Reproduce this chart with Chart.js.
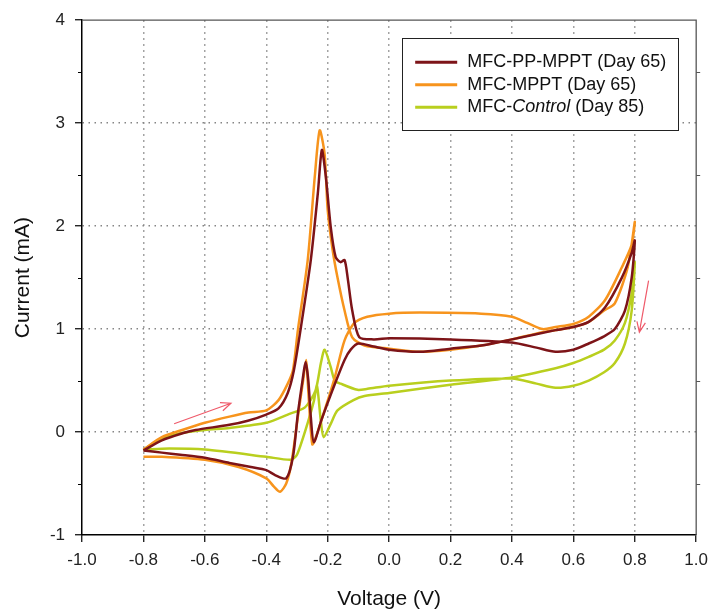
<!DOCTYPE html>
<html>
<head>
<meta charset="utf-8">
<script src="https://cdn.jsdelivr.net/npm/chart.js@4/dist/chart.umd.min.js"></script>
<style>
  html, body { margin: 0; padding: 0; background: #fff; }
  #wrap { width: 716px; height: 610px; }
</style>
</head>
<body>
<div id="wrap"><canvas id="cvChart" width="716" height="610"></canvas></div>
<script>
// cyclic voltammograms: forward scan then reverse scan
const ppmpptV = [-0.8,-0.74,-0.67,-0.63,-0.52,-0.46,-0.4,-0.36,-0.33,-0.31,-0.287,-0.255,-0.232,-0.219,-0.206,-0.19,-0.174,-0.158,-0.145,-0.135,-0.12,-0.097,-0.05,0.0,0.2,0.4,0.48,0.542,0.6,0.65,0.7,0.735,0.768,0.79,0.8,
  0.79,0.758,0.703,0.65,0.6,0.542,0.4,0.3,0.2,0.1,0.0,-0.05,-0.1,-0.125,-0.145,-0.184,-0.22,-0.245,-0.255,-0.263,-0.272,-0.282,-0.297,-0.313,-0.335,-0.37,-0.4,-0.45,-0.52,-0.6,-0.68,-0.74,-0.8];
const ppmpptI = [-0.18,-0.08,-0.01,0.02,0.07,0.11,0.17,0.23,0.38,0.6,1.02,1.67,2.32,2.74,2.48,1.99,1.7,1.65,1.67,1.5,1.18,0.92,0.9,0.91,0.9,0.87,0.82,0.78,0.8,0.86,0.93,1.0,1.18,1.5,1.86,
  1.74,1.5,1.21,1.07,1.02,0.99,0.9,0.84,0.81,0.78,0.8,0.83,0.86,0.8,0.7,0.41,0.12,-0.1,0.15,0.5,0.68,0.5,0.18,-0.24,-0.45,-0.42,-0.37,-0.34,-0.3,-0.25,-0.22,-0.2,-0.18];

const mpptV = [-0.8,-0.74,-0.674,-0.6,-0.52,-0.458,-0.4,-0.36,-0.33,-0.313,-0.297,-0.265,-0.242,-0.226,-0.21,-0.2,-0.184,-0.168,-0.145,-0.12,-0.08,0.0,0.1,0.2,0.3,0.4,0.5,0.6,0.65,0.7,0.735,0.777,0.8,
  0.79,0.758,0.703,0.65,0.6,0.542,0.5,0.45,0.4,0.3,0.1,0.0,-0.071,-0.113,-0.145,-0.177,-0.21,-0.242,-0.25,-0.258,-0.265,-0.27,-0.28,-0.297,-0.318,-0.335,-0.355,-0.375,-0.4,-0.49,-0.6,-0.74,-0.8];
const mpptI = [-0.17,-0.05,0.02,0.09,0.15,0.19,0.21,0.31,0.47,0.6,0.99,1.67,2.48,2.93,2.7,2.16,1.77,1.5,1.18,0.92,0.84,0.81,0.78,0.8,0.84,0.9,0.97,1.02,1.07,1.18,1.25,1.6,2.04,
  1.82,1.6,1.28,1.12,1.05,1.02,1.0,1.06,1.12,1.15,1.16,1.15,1.12,1.06,0.89,0.53,0.21,-0.08,-0.12,0.15,0.5,0.7,0.5,0.15,-0.3,-0.5,-0.58,-0.53,-0.45,-0.34,-0.27,-0.24,-0.24];

const controlV = [-0.8,-0.74,-0.674,-0.6,-0.52,-0.4,-0.33,-0.274,-0.24,-0.222,-0.21,-0.19,-0.177,-0.158,-0.103,-0.07,0.0,0.2,0.4,0.48,0.542,0.6,0.65,0.7,0.735,0.768,0.79,0.8,
  0.79,0.768,0.735,0.7,0.65,0.6,0.542,0.4,0.2,0.0,-0.08,-0.116,-0.168,-0.19,-0.213,-0.222,-0.235,-0.245,-0.265,-0.3,-0.32,-0.4,-0.6,-0.716,-0.8];
const controlI = [-0.17,-0.06,-0.01,0.02,0.04,0.09,0.17,0.24,0.4,0.67,0.8,0.63,0.5,0.47,0.41,0.42,0.45,0.5,0.52,0.47,0.43,0.45,0.5,0.58,0.67,0.86,1.18,1.65,
  1.35,1.06,0.89,0.8,0.73,0.67,0.62,0.53,0.46,0.38,0.35,0.31,0.21,0.08,-0.05,0.1,0.45,0.3,0.09,-0.22,-0.27,-0.24,-0.17,-0.16,-0.17];

const seriesNames = ['MFC-PP-MPPT (Day 65)', 'MFC-MPPT (Day 65)', 'MFC-Control (Day 85)'];
const seriesColors = ['#7d1418', '#f7941d', '#b9cf1e'];
const italicWord = 'Control';

// scan-direction arrows [start, end]
const arrowV = [[-0.70, -0.515], [0.845, 0.815]];
const arrowI = [[0.08, 0.28], [1.47, 0.97]];

const minorTicks = [-0.5, 0.5, 1.5, 2.5, 3.5];

const toPoints = (xs, ys) => xs.map((v, i) => ({x: v, y: ys[i]}));

const gridColor = (lo, hi) => ctx => {
  const v = ctx.tick.value;
  return (Math.abs(v - lo) < 1e-9 || Math.abs(v - hi) < 1e-9) ? 'rgba(0,0,0,0)' : '#858585';
};

const framePlugin = {
  id: 'frame',
  afterDraw(chart) {
    const {ctx, chartArea: a, scales: {x, y}} = chart;
    ctx.save();
    // top + right frame
    ctx.strokeStyle = '#555';
    ctx.lineWidth = 1.3;
    ctx.beginPath();
    ctx.moveTo(a.left, a.top);
    ctx.lineTo(a.right, a.top);
    ctx.lineTo(a.right, a.bottom);
    ctx.stroke();

    // minor ticks
    ctx.lineWidth = 1;
    minorTicks.forEach(v => {
      const py = Math.round(y.getPixelForValue(v)) + 0.5;
      ctx.strokeStyle = '#000';
      ctx.beginPath(); ctx.moveTo(a.left - 4, py); ctx.lineTo(a.left, py); ctx.stroke();
      ctx.strokeStyle = '#555';
      ctx.beginPath(); ctx.moveTo(a.right, py); ctx.lineTo(a.right + 4, py); ctx.stroke();
    });

    // arrows
    ctx.strokeStyle = '#ef5a6a';
    ctx.lineWidth = 1.2;
    arrowV.forEach((vs, i) => {
      const x1 = x.getPixelForValue(vs[0]), y1 = y.getPixelForValue(arrowI[i][0]);
      const x2 = x.getPixelForValue(vs[1]), y2 = y.getPixelForValue(arrowI[i][1]);
      const ang = Math.atan2(y2 - y1, x2 - x1);
      ctx.beginPath();
      ctx.moveTo(x1, y1); ctx.lineTo(x2, y2);
      ctx.moveTo(x2 - 11 * Math.cos(ang - 0.4), y2 - 11 * Math.sin(ang - 0.4));
      ctx.lineTo(x2, y2);
      ctx.lineTo(x2 - 11 * Math.cos(ang + 0.4), y2 - 11 * Math.sin(ang + 0.4));
      ctx.stroke();
    });

    // legend box
    const bx = a.right - 294, by = a.top + 18, bw = 276, bh = 92;
    ctx.fillStyle = '#fff';
    ctx.fillRect(bx, by, bw, bh);
    ctx.strokeStyle = '#222';
    ctx.lineWidth = 1;
    ctx.strokeRect(Math.round(bx) + 0.5, Math.round(by) + 0.5, bw, bh);
    ctx.textBaseline = 'middle';
    ctx.fillStyle = '#111';
    seriesNames.forEach((name, i) => {
      const ry = by + 24 + i * 22.5;
      ctx.strokeStyle = seriesColors[i];
      ctx.lineWidth = 3;
      ctx.beginPath(); ctx.moveTo(bx + 13, ry); ctx.lineTo(bx + 55, ry); ctx.stroke();
      let tx = bx + 65;
      const parts = name.split(italicWord);
      parts.forEach((p, k) => {
        ctx.font = "18px 'Liberation Sans', Arial, sans-serif";
        ctx.fillText(p, tx, ry);
        tx += ctx.measureText(p).width;
        if (k < parts.length - 1) {
          ctx.font = "italic 18px 'Liberation Sans', Arial, sans-serif";
          ctx.fillText(italicWord, tx, ry);
          tx += ctx.measureText(italicWord).width;
        }
      });
    });
    ctx.restore();
  }
};

Chart.defaults.font.family = "'Liberation Sans', Arial, sans-serif";
Chart.defaults.color = '#222';

const series = [[ppmpptV, ppmpptI], [mpptV, mpptI], [controlV, controlI]];

new Chart(document.getElementById('cvChart'), {
  type: 'scatter',
  data: {
    datasets: series.map((s, i) => ({
      label: seriesNames[i],
      data: toPoints(s[0], s[1]),
      showLine: true,
      borderColor: seriesColors[i],
      backgroundColor: seriesColors[i],
      borderWidth: 2.5,
      pointRadius: 0,
      tension: 0.25
    }))
  },
  options: {
    responsive: false,
    animation: false,
    layout: { padding: { top: 20, right: 14, left: 0, bottom: 0 } },
    plugins: { legend: { display: false }, tooltip: { enabled: false } },
    scales: {
      x: {
        type: 'linear', min: -1, max: 1,
        ticks: {
          stepSize: 0.2, padding: 8, color: '#222', font: { size: 17 },
          callback: v => (Math.abs(v) < 1e-9 ? 0 : v).toFixed(1)
        },
        grid: { color: gridColor(-1, 1), lineWidth: 1.5, tickLength: 7, tickColor: '#000', tickWidth: 1.2, tickBorderDash: [] },
        border: { color: '#000', width: 1.5, dash: [1.5, 4.5] },
        title: { display: true, text: 'Voltage (V)', color: '#111', font: { size: 21, lineHeight: 1 }, padding: { top: 0, bottom: 0 } },
        afterFit: s => { s.height = 75; }
      },
      y: {
        type: 'linear', min: -1, max: 4,
        ticks: { stepSize: 1, padding: 10, color: '#222', font: { size: 17 } },
        grid: { color: gridColor(-1, 4), lineWidth: 1.5, tickLength: 7, tickColor: '#000', tickWidth: 1.2, tickBorderDash: [] },
        border: { color: '#000', width: 1.5, dash: [1.5, 4.5] },
        title: { display: true, text: 'Current (mA)', color: '#111', font: { size: 21, lineHeight: 1 }, padding: { top: 13, bottom: 0 } },
        afterFit: s => { s.width = 82; }
      }
    }
  },
  plugins: [framePlugin]
});
</script>
</body>
</html>
